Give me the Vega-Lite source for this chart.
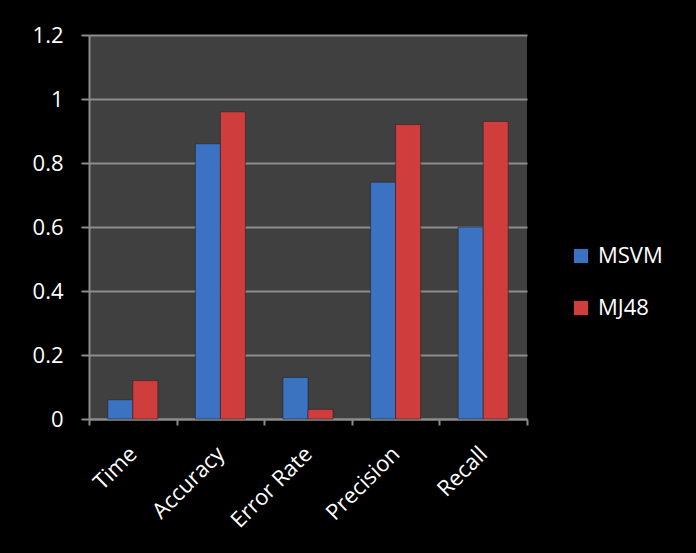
{
  "$schema": "https://vega.github.io/schema/vega-lite/v6.json",
  "width": 438,
  "height": 384,
  "autosize": "none",
  "padding": {"left": 89, "top": 35, "right": 169, "bottom": 134},
  "background": "black",
  "view": {"fill": "#404040", "stroke": null},
  "config": {"font": "Open Sans"},
  "data": {
    "values": [
      {"metric": "Time", "model": "MSVM", "value": 0.06},
      {"metric": "Time", "model": "MJ48", "value": 0.12},
      {"metric": "Accuracy", "model": "MSVM", "value": 0.86},
      {"metric": "Accuracy", "model": "MJ48", "value": 0.96},
      {"metric": "Error Rate", "model": "MSVM", "value": 0.13},
      {"metric": "Error Rate", "model": "MJ48", "value": 0.03},
      {"metric": "Precision", "model": "MSVM", "value": 0.74},
      {"metric": "Precision", "model": "MJ48", "value": 0.92},
      {"metric": "Recall", "model": "MSVM", "value": 0.6},
      {"metric": "Recall", "model": "MJ48", "value": 0.93}
    ]
  },
  "mark": {"type": "bar", "stroke": "#1a1a1a", "strokeWidth": 0.5},
  "encoding": {
    "x": {
      "field": "metric",
      "type": "nominal",
      "sort": ["Time", "Accuracy", "Error Rate", "Precision", "Recall"],
      "scale": {"paddingInner": 0, "paddingOuter": 0},
      "axis": {
        "title": null,
        "tickBand": "extent",
        "tickSize": 6,
        "tickColor": "#8c8c8c",
        "tickWidth": 2,
        "domainColor": "#8c8c8c",
        "domainWidth": 2,
        "labelAngle": -45,
        "labelAlign": "right",
        "labelBaseline": "middle",
        "labelColor": "white",
        "labelFontSize": 22,
        "labelPadding": 25,
        "grid": false
      }
    },
    "xOffset": {
      "field": "model",
      "type": "nominal",
      "sort": ["MSVM", "MJ48"],
      "scale": {"paddingInner": 0, "paddingOuter": 0.75}
    },
    "y": {
      "field": "value",
      "type": "quantitative",
      "scale": {"domain": [0, 1.2], "nice": false},
      "axis": {
        "title": null,
        "values": [0, 0.2, 0.4, 0.6, 0.8, 1, 1.2],
        "format": "~g",
        "tickSize": 8,
        "tickColor": "#8c8c8c",
        "tickWidth": 2,
        "domainColor": "#8c8c8c",
        "domainWidth": 2,
        "gridColor": "#8c8c8c",
        "gridWidth": 2,
        "labelColor": "white",
        "labelFontSize": 22,
        "labelPadding": 18
      }
    },
    "color": {
      "field": "model",
      "type": "nominal",
      "sort": ["MSVM", "MJ48"],
      "scale": {"domain": ["MSVM", "MJ48"], "range": ["#3b73c2", "#cf3d3d"]},
      "legend": {
        "title": null,
        "orient": "none",
        "legendX": 481,
        "legendY": 210,
        "symbolType": "square",
        "symbolSize": 200,
        "symbolStrokeWidth": 0,
        "labelColor": "white",
        "labelFontSize": 22,
        "labelOffset": 6,
        "rowPadding": 30
      }
    }
  }
}
